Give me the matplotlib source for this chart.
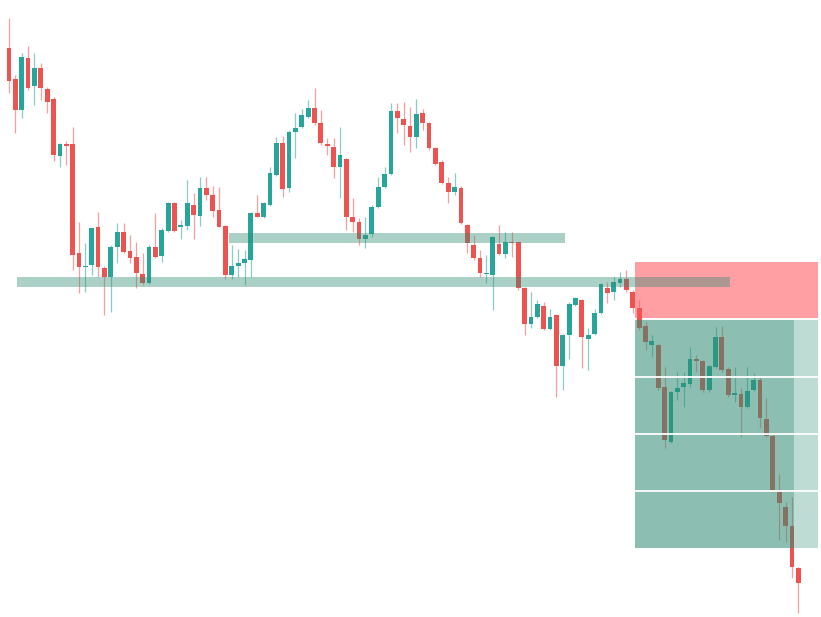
import numpy as np
import matplotlib
matplotlib.use("Agg")
from matplotlib import pyplot as plt

# candles (price units, higher = up)
opens = [569, 538, 507, 559, 531, 549, 528, 518, 461, 473, 473, 364, 350, 352, 390, 349,
         340, 370, 385, 366, 360, 343, 334, 370, 361, 386, 414, 390, 391, 412, 401, 429,
         422, 407, 391, 342, 351, 354, 357, 404, 400, 412, 442, 474, 429, 485, 490, 500,
         509, 494, 473, 470, 450, 458, 400, 395, 378, 383, 410, 430, 443, 506, 498, 491,
         480, 504, 494, 469, 455, 434, 425, 429, 392, 372, 359, 343, 342, 373, 363, 375,
         375, 329, 293, 300, 311, 288, 302, 251, 282, 312, 317, 278, 283, 304, 329, 325,
         334, 338, 325, 309, 291, 272, 272, 230, 175, 225, 230, 233, 258, 256, 227, 250,
         280, 248, 222, 223, 210, 227, 237, 198, 181, 127, 110, 91, 49]
highs = [599, 542, 564, 571, 564, 554, 530, 520, 474, 476, 490, 395, 374, 390, 405, 351,
         372, 394, 394, 382, 375, 364, 372, 404, 389, 415, 415, 397, 437, 424, 440, 440,
         431, 430, 392, 372, 368, 367, 405, 422, 415, 450, 480, 481, 487, 504, 508, 517,
         529, 507, 479, 479, 490, 459, 419, 399, 400, 412, 440, 450, 514, 514, 515, 510,
         518, 508, 495, 470, 457, 440, 444, 431, 393, 382, 367, 362, 381, 392, 385, 385,
         376, 330, 325, 317, 315, 308, 303, 283, 315, 320, 318, 289, 308, 334, 335, 340,
         345, 347, 327, 317, 295, 282, 273, 250, 226, 245, 245, 270, 262, 257, 252, 290,
         291, 250, 250, 229, 250, 244, 240, 219, 183, 143, 115, 120, 50]
lows = [524, 484, 499, 527, 512, 517, 504, 456, 450, 452, 347, 324, 325, 342, 340, 302,
        305, 354, 364, 354, 329, 332, 333, 359, 355, 385, 385, 378, 387, 378, 391, 417,
        400, 390, 338, 338, 340, 332, 340, 400, 399, 411, 441, 420, 425, 459, 489, 499,
        492, 472, 462, 439, 419, 387, 385, 372, 369, 380, 409, 429, 442, 484, 472, 465,
        469, 487, 467, 452, 433, 414, 422, 393, 364, 357, 340, 334, 307, 362, 359, 360,
        327, 282, 289, 299, 287, 287, 220, 227, 258, 311, 249, 247, 282, 303, 314, 317,
        330, 325, 304, 287, 267, 260, 227, 169, 174, 217, 210, 230, 245, 225, 225, 249,
        245, 220, 215, 180, 209, 226, 189, 180, 125, 77, 75, 39, 4]
closes = [536, 507, 560, 529, 549, 529, 515, 462, 473, 471, 362, 350, 351, 389, 350, 340,
          370, 385, 365, 359, 344, 334, 370, 360, 387, 414, 386, 392, 414, 402, 429, 422,
          406, 390, 342, 351, 354, 358, 404, 400, 414, 444, 474, 428, 485, 489, 502, 509,
          494, 474, 471, 450, 462, 400, 395, 378, 382, 410, 430, 443, 506, 499, 492, 480,
          503, 494, 469, 453, 434, 425, 430, 394, 374, 359, 344, 344, 380, 363, 375, 374,
          329, 293, 300, 313, 288, 300, 251, 282, 313, 319, 280, 282, 304, 333, 324, 335,
          338, 327, 309, 289, 275, 276, 229, 177, 225, 229, 234, 258, 256, 227, 251, 280,
          247, 222, 224, 210, 226, 237, 199, 181, 127, 114, 91, 50, 34]

# support levels (low, high, first bar, last bar)
level_lo = [330.5, 374]
level_hi = [340.5, 384]
level_from = [1.26, 34.6]
level_to = [113.3, 87.4]

# short position: entry, stop, target
pos_from, pos_to, pos_fade = 98.35, 127.1, 123.3
entry = 298
stop = 355
target = 69

up_col = "#26a69a"
dn_col = "#ef5350"

o = np.array(opens)
h = np.array(highs)
l = np.array(lows)
c = np.array(closes)
x = np.arange(len(o))
cols = [up_col if cc >= oo else dn_col for oo, cc in zip(o, c)]

fig = plt.figure(figsize=(8.21, 6.17), dpi=100)
ax = fig.add_axes([0, 0, 1, 1])

# wicks and bodies
ax.vlines(x, l, h, colors=cols, linewidth=0.9, alpha=0.55, zorder=2)
bot = np.minimum(o, c)
hgt = np.maximum(np.abs(c - o), 1.5)
ax.bar(x, hgt, bottom=bot, width=0.75, color=cols, linewidth=0, zorder=3)

# horizontal zones
zone_col = (46/255, 140/255, 115/255)
for lo, hi, a, b in zip(level_lo, level_hi, level_from, level_to):
    ax.fill_between([a, b], lo, hi, color=zone_col, alpha=0.4, linewidth=0, zorder=5)

# risk / reward boxes
ax.fill_between([pos_from, pos_to], entry + 1, stop, color=(1.0, 80/255, 90/255),
                alpha=0.55, linewidth=0, zorder=4)
ax.fill_between([pos_from, pos_fade], target, entry - 1, color=zone_col,
                alpha=0.55, linewidth=0, zorder=4)
ax.fill_between([pos_fade, pos_to], target, entry - 1, color=zone_col,
                alpha=0.3, linewidth=0, zorder=4)
for k in range(1, 4):
    yy = target + (entry - 1 - target) * k / 4
    ax.plot([pos_from, pos_to], [yy, yy], color="white", linewidth=1.3, zorder=6)

ax.set_xlim(-9 / 6.365, (821 - 9) / 6.365)
ax.set_ylim(0, 617)
ax.axis("off")

fig.savefig("out.png", dpi=100, facecolor="white")
